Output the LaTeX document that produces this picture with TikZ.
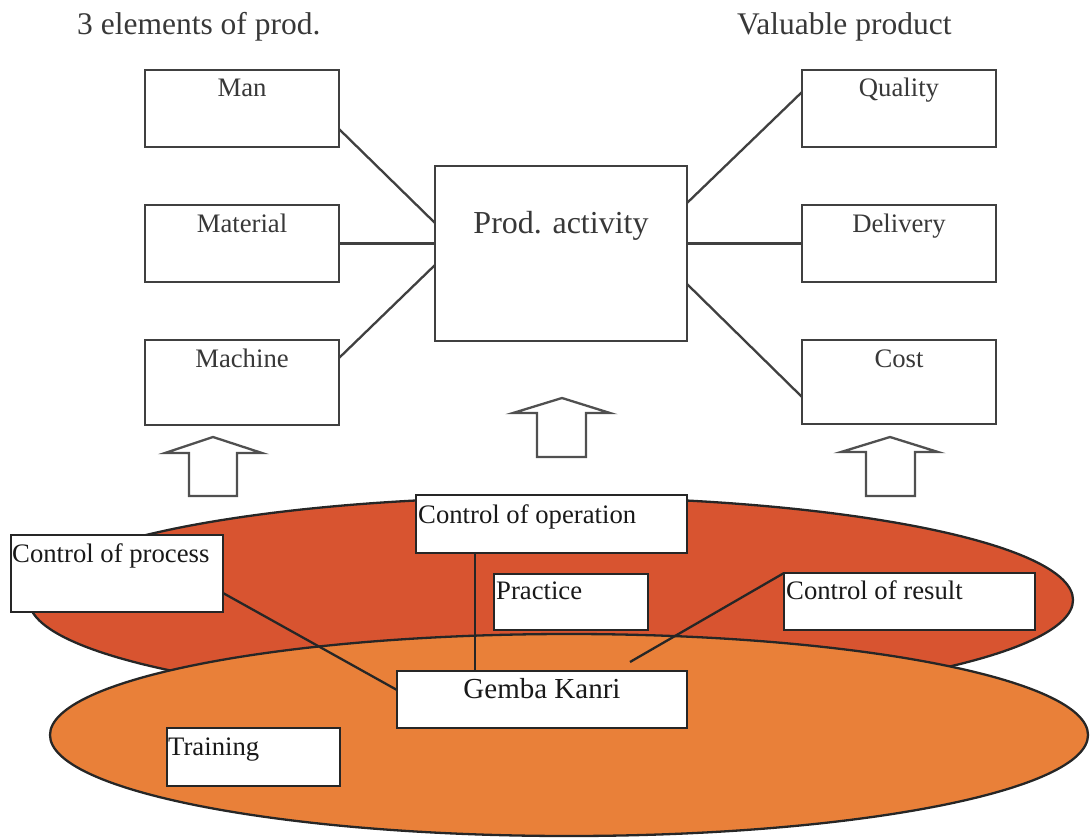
\documentclass[tikz,border=0pt]{standalone}
\usepackage{fontspec}
\setmainfont{Liberation Serif}
\begin{document}
\begin{tikzpicture}[x=1pt,y=-1pt,
  box/.style={draw=boxgray,line width=2.3pt,fill=white,inner sep=0pt,outer sep=0pt},
  lowbox/.style={draw=lowline,line width=2.3pt,fill=white,inner sep=0pt,outer sep=0pt},
  link/.style={draw=boxgray,line width=2.3pt},
  lowlink/.style={draw=lowline,line width=2.3pt},
  blockarrow/.style={draw=arrowgray,line width=2.3pt,fill=white,line join=miter},
  head/.style={font=\fontsize{31.5}{36}\selectfont,text=txtgray,inner sep=0pt,anchor=base west},
  lbl/.style={font=\fontsize{26.7}{30}\selectfont,text=txtgray,inner sep=0pt,anchor=base},
  lowlbl/.style={font=\fontsize{26.7}{30}\selectfont,text=black!90,inner sep=0pt,anchor=base west}]
\definecolor{boxgray}{HTML}{404040}
\definecolor{arrowgray}{HTML}{505050}
\definecolor{lowline}{HTML}{262626}
\definecolor{txtgray}{HTML}{383838}
\definecolor{darkzone}{RGB}{216,84,48}
\definecolor{lightzone}{RGB}{233,128,57}
\useasboundingbox (0,0) rectangle (1091,837);

% headings
\node[head] (h1) at (77,35) {3 elements of prod.};
\node[head] (h2) at (737,35) {Valuable product};

% three elements of production
\node[box,minimum width=194pt,minimum height=77pt] (man) at (242,108.5) {};
\node[box,minimum width=194pt,minimum height=77pt] (material) at (242,243.5) {};
\node[box,minimum width=194pt,minimum height=85pt] (machine) at (242,382.5) {};
\node[lbl] (man-t) at (242,97) {Man};
\node[lbl] (material-t) at (242,232) {Material};
\node[lbl] (machine-t) at (242,367) {Machine};

% production activity
\node[box,minimum width=252pt,minimum height=175pt] (prod) at (561,253.5) {};
\node[lbl,font=\fontsize{32}{36}\selectfont] (prod-t) at (561,233) {Prod. activity};

% valuable product
\node[box,minimum width=194pt,minimum height=77pt] (quality) at (899,108.5) {};
\node[box,minimum width=194pt,minimum height=77pt] (delivery) at (899,243.5) {};
\node[box,minimum width=194pt,minimum height=84pt] (cost) at (899,382) {};
\node[lbl] (quality-t) at (899,97) {Quality};
\node[lbl] (delivery-t) at (899,232) {Delivery};
\node[lbl] (cost-t) at (899,367) {Cost};

% connectors
\draw[link] ([yshift=-20.5pt]man.east) -- ([yshift=30.5pt]prod.west);
\draw[link] (material.east) -- (material.east -| prod.west);
\draw[link] ([yshift=24.5pt]machine.east) -- ([yshift=-11.5pt]prod.west);
\draw[link] ([yshift=50.5pt]prod.east) -- ([yshift=16.5pt]quality.west);
\draw[link] (prod.east |- delivery.west) -- (delivery.west);
\draw[link] ([yshift=-30.5pt]prod.east) -- ([yshift=-15pt]cost.west);

% upward block arrows
\draw[blockarrow] (189,496) -- (189,453) -- (165,453) -- (213,437) -- (262,453) -- (237,453) -- (237,496) -- cycle;
\draw[blockarrow] (537,457) -- (537,413) -- (513,413) -- (562,398) -- (610,413) -- (586,413) -- (586,457) -- cycle;
\draw[blockarrow] (866,496) -- (866,452) -- (841,452) -- (890,437) -- (938,452) -- (915,452) -- (915,496) -- cycle;

% gemba zones
\filldraw[fill=darkzone,draw=lowline,line width=2.3pt] (551,600) ellipse [x radius=522, y radius=103];
\filldraw[fill=lightzone,draw=lowline,line width=2.3pt] (569,735) ellipse [x radius=519, y radius=101];

% gemba boxes
\node[lowbox,minimum width=271pt,minimum height=58pt] (ctrlop) at (551.5,524) {};
\node[lowbox,minimum width=154pt,minimum height=56pt] (practice) at (571,602) {};
\node[lowbox,minimum width=290pt,minimum height=57pt] (gemba) at (542,699.5) {};
\node[lowbox,minimum width=212pt,minimum height=77pt] (ctrlproc) at (117,573.5) {};
\node[lowbox,minimum width=251pt,minimum height=57pt] (ctrlres) at (909.5,601.5) {};
\node[lowbox,minimum width=173pt,minimum height=58pt] (training) at (253.5,757) {};
\coordinate (resend) at (630,662);

\draw[lowlink] ([xshift=-76.5pt]ctrlop.south) -- ([xshift=-67pt]gemba.north);
\draw[lowlink] ([yshift=-19.5pt]ctrlproc.east) -- ([yshift=9.5pt]gemba.west);
\draw[lowlink] (ctrlres.north west) -- (resend);

\node[lowlbl] (ctrlop-t) at (418,523) {Control of operation};
\node[lowlbl] (practice-t) at (496,599) {Practice};
\node[lowlbl,anchor=base,font=\fontsize{29}{32}\selectfont] (gemba-t) at (542,698) {Gemba Kanri};
\node[lowlbl] (ctrlproc-t) at (12,562) {Control of process};
\node[lowlbl] (ctrlres-t) at (786,599) {Control of result};
\node[lowlbl] (training-t) at (168,755) {Training};
\end{tikzpicture}
\end{document}
